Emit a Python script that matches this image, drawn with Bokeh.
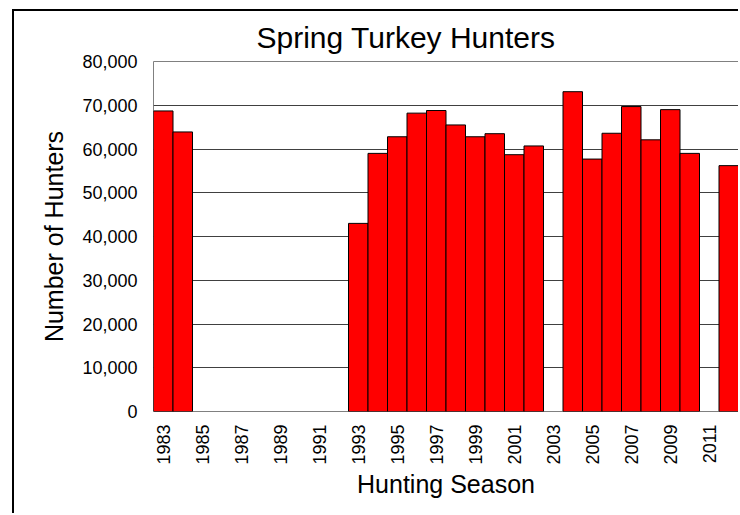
import math
from bokeh.plotting import figure
from bokeh.models import (ColumnDataSource, Range1d, FixedTicker, NumeralTickFormatter, Title)
from bokeh.embed import file_html
from bokeh.resources import INLINE

# Data (seasons with no bar are omitted)
seasons = [1983, 1984, 1993, 1994, 1995, 1996, 1997, 1998, 1999, 2000, 2001, 2002,
           2004, 2005, 2006, 2007, 2008, 2009, 2010, 2012]
hunters = [68700, 63900, 43000, 59000, 62800, 68200, 68800, 65500, 62800, 63500,
           58700, 60700, 73100, 57700, 63600, 69700, 62100, 69000, 59000, 56200]
tick_years = list(range(1983, 2012, 2))
y_ticks = list(range(0, 80001, 10000))

FONT = "Liberation Sans"

src = ColumnDataSource(dict(season=seasons, hunters=hunters))

p = figure(width=726, height=504, output_backend="svg", toolbar_location=None,
           x_range=Range1d(1982.5, 2012.5), y_range=Range1d(0, 80000),
           min_border_left=139, min_border_right=2, min_border_top=50,
           min_border_bottom=104)

# outer chart-area border: left and top edges visible in the reference
p.styles = {"margin-left": "12px", "margin-top": "9px",
            "border-left": "2px solid black", "border-top": "2px solid black"}

p.title = Title(text="Spring Turkey Hunters", align="left", offset=103,
                standoff=15,
                text_font=FONT, text_font_size="30px", text_font_style="normal",
                text_color="black")

p.vbar(x="season", top="hunters", width=1.0, bottom=0, source=src,
       fill_color="#FF0000", line_color="black", line_width=1)

p.outline_line_color = "#808080"
p.outline_line_width = 1
p.background_fill_color = "white"
p.border_fill_color = "white"

p.xgrid.grid_line_color = None
p.ygrid.grid_line_color = "#404040"
p.ygrid.grid_line_width = 1
p.ygrid.ticker = FixedTicker(ticks=y_ticks)

xa = p.xaxis[0]
xa.ticker = FixedTicker(ticks=tick_years)
xa.major_label_orientation = math.pi / 2
xa.major_label_text_font = FONT
xa.major_label_text_font_size = "18px"
xa.major_label_text_color = "black"
xa.major_label_standoff = 13
xa.major_tick_in = 0
xa.major_tick_out = 0
xa.minor_tick_in = 0
xa.minor_tick_out = 0
xa.axis_line_color = None
xa.axis_label = "Hunting Season"
xa.axis_label_text_font = FONT
xa.axis_label_text_font_size = "25px"
xa.axis_label_text_font_style = "normal"
xa.axis_label_text_color = "black"
xa.axis_label_standoff = 2

ya = p.yaxis[0]
ya.ticker = FixedTicker(ticks=y_ticks)
ya.formatter = NumeralTickFormatter(format="0,0")
ya.major_label_text_font = FONT
ya.major_label_text_font_size = "18px"
ya.major_label_text_color = "black"
ya.major_label_standoff = 16
ya.major_tick_in = 0
ya.major_tick_out = 0
ya.minor_tick_in = 0
ya.minor_tick_out = 0
ya.axis_line_color = None
ya.axis_label = "Number of Hunters"
ya.axis_label_text_font = FONT
ya.axis_label_text_font_size = "25px"
ya.axis_label_text_font_style = "normal"
ya.axis_label_text_color = "black"
ya.axis_label_standoff = 11

open("out.html", "w").write(file_html(p, INLINE))
